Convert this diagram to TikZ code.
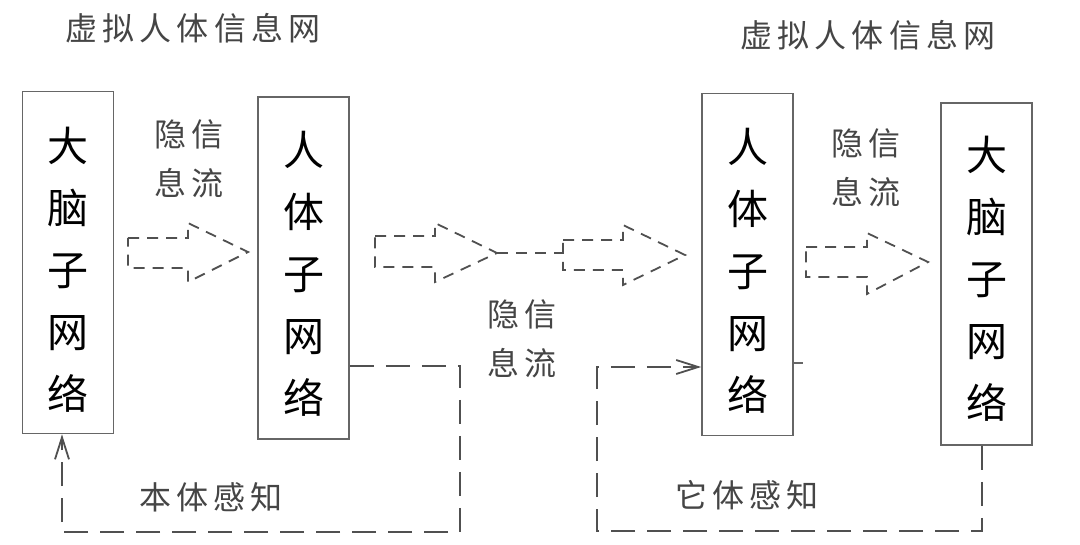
\documentclass[tikz,border=0pt]{standalone}
\usepackage{fontspec}
\setmainfont{Noto Sans CJK SC}
\usetikzlibrary{arrows.meta,calc}
\definecolor{boxc}{HTML}{666666}
\definecolor{linec}{HTML}{505050}
\definecolor{labc}{HTML}{454545}
\tikzset{
  netbox/.style={draw=boxc, line width=1.7pt, minimum width=91pt, minimum height=342pt, inner sep=0pt},
  boxtext/.style={font=\fontsize{41}{62}\selectfont, align=center, text=black, inner sep=0pt},
  lab/.style={font=\fontsize{32}{49}\selectfont\addfontfeature{LetterSpace=16}, align=center, text=labc, inner sep=0pt},
  blockarrow/.style={draw=linec, line width=1.8pt, dash pattern=on 11pt off 8pt},
  loopline/.style={draw=linec, line width=1.8pt, dash pattern=on 24pt off 12pt},
  barb/.style={-{Straight Barb[length=22pt,width=14pt]}}
}
\begin{document}
\begin{tikzpicture}[x=1pt,y=-1pt]
\useasboundingbox (0,0) rectangle (1080,545);
\fill[white] (0,0) rectangle (1080,545);

% boxes
\node[netbox] (b1) at (68,262.5) {};
\node[netbox] (b2) at (303.5,268) {};
\node[netbox] (b3) at (747.5,264.5) {};
\node[netbox] (b4) at (986.5,274) {};
\node[boxtext] (t1) at ($(b1.center)+(0,7)$) {大\\脑\\子\\网\\络};
\node[boxtext] (t2) at ($(b2.center)+(0,6)$) {人\\体\\子\\网\\络};
\node[boxtext] (t3) at ($(b3.center)+(0,6)$) {人\\体\\子\\网\\络};
\node[boxtext] (t4) at ($(b4.center)+(0,5)$) {大\\脑\\子\\网\\络};

% labels
\node[lab] (h1) at (193,28) {虚拟人体信息网};
\node[lab] (h2) at (868,35) {虚拟人体信息网};
\node[lab] (f1) at (189,159) {隐信\\息流};
\node[lab] (f2) at (522,339) {隐信\\息流};
\node[lab] (f3) at (866,168) {隐信\\息流};
\node[lab] (s1) at (211,497) {本体感知};
\node[lab] (s2) at (747,495) {它体感知};

% dashed block arrows
\draw[blockarrow] (128,238) -- (188,238) -- (188,223) -- (248,252) -- (188,282) -- (188,268) -- (128,268) -- cycle;
\draw[blockarrow] (375,236) -- (435,236) -- (435,223) -- (497,253) -- (435,282) -- (435,267) -- (375,267) -- cycle;
\draw[blockarrow] (563,240) -- (623,240) -- (623,225) -- (685,255) -- (623,285) -- (623,270) -- (563,270) -- cycle;
\draw[blockarrow] (806,247) -- (867,247) -- (867,233) -- (928,262) -- (867,294) -- (867,277) -- (806,277) -- cycle;
\coordinate (a2tip) at (497,253);
\coordinate (a3tail) at (563,253);
\draw[blockarrow] (a2tip) -- (a3tail);

% feedback loops
\coordinate (y366) at (0,366);
\coordinate (y367) at (0,367);
\coordinate (y363) at (0,363);
\coordinate (c1) at (460,532);
\coordinate (c2) at (62,532);
\coordinate (c3) at (982,531);
\coordinate (c4) at (597,531);
\draw[loopline,barb] (b2.east |- y366) -| (c1) -- (c2) -- (c2 |- b1.south);
\draw[loopline,barb] (c3 |- b4.south) -- (c3) -- (c4) |- (b3.west |- y367);
\draw[draw=boxc,line width=1.5pt] (b3.east |- y363) -- ++(9,0);
\end{tikzpicture}
\end{document}
